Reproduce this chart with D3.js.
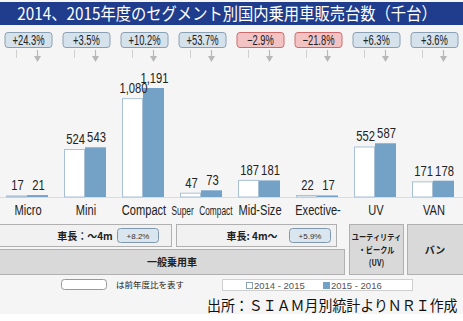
<!DOCTYPE html>
<html><head><meta charset="utf-8">
<script src="https://cdn.jsdelivr.net/npm/d3@7"></script>
<style>
html,body{margin:0;padding:0;background:#fff;}
svg{display:block;}
</style></head>
<body>
<svg id="chart" width="463" height="321"></svg>
<script>
const categories = ["Micro","Mini","Compact","Super Compact","Mid-Size","Exective-","UV","VAN"];
const series = ["2014 - 2015","2015 - 2016"];
const values2014 = [17, 524, 1080, 47, 187, 22, 552, 171];
const values2015 = [21, 543, 1191, 73, 181, 17, 587, 178];
const valueLabels2014 = ["17","524","1,080","47","187","22","552","171"];
const valueLabels2015 = ["21","543","1,191","73","181","17","587","178"];
const changes = ["+24.3%","+3.5%","+10.2%","+53.7%","\u22122.9%","\u221221.8%","+6.3%","+3.6%"];
const title = "2014、2015年度のセグメント別国内乗用車販売台数（千台）";
const groupLabels = ["車長：～4m","車長: 4m〜"];
const groupChanges = ["+8.2%","+5.9%"];

const SANS = "'Liberation Sans',Arial,sans-serif";
const JP = "'Noto Sans CJK JP','Noto Sans',sans-serif";
const BLUE = "#73a2c6";

const svg = d3.select("#chart");
svg.append("rect").attr("x",0).attr("y",0).attr("width",463).attr("height",314).attr("fill","#f5f5f5");
svg.append("rect").attr("x",0).attr("y",2).attr("width",463).attr("height",23).attr("fill","#1f3d8c");
svg.append("text").attr("transform","translate(227,19.5) scale(0.9,1)").attr("text-anchor","middle")
  .attr("fill","#fff").attr("font-family",JP).attr("font-size",17).text(title);

const x = d3.scaleBand().domain(categories).range([-2,462]).paddingInner(0.276).paddingOuter(0.138);
const xs = d3.scaleBand().domain(series).range([0, x.bandwidth()]);
const y = d3.scaleLinear().domain([0,1191]).range([197,88]);

svg.append("line").attr("x1",0).attr("x2",463).attr("y1",y(0)+0.5).attr("y2",y(0)+0.5).attr("stroke","#dcdcdc");

const data = categories.map((c,i)=>({c, v:[values2014[i],values2015[i]], l:[valueLabels2014[i],valueLabels2015[i]], ch:changes[i]}));
const grp = svg.append("g").selectAll("g.cat").data(data).join("g").attr("class","cat");

grp.append("rect").attr("x",d=>x(d.c)+xs(series[0])+0.5).attr("y",d=>y(d.v[0])+0.5)
  .attr("width",xs.bandwidth()-1).attr("height",d=>y(0)-y(d.v[0])-0.5)
  .attr("fill","#fff").attr("stroke","#a9c1d6").attr("stroke-width",1);
grp.append("rect").attr("x",d=>x(d.c)+xs(series[1])).attr("y",d=>y(d.v[1]))
  .attr("width",xs.bandwidth()).attr("height",d=>y(0)-y(d.v[1]))
  .attr("fill",BLUE);

[0,1].forEach(k=>{
  grp.append("text")
    .attr("transform",d=>`translate(${x(d.c)+xs(series[k])+xs.bandwidth()/2+1},${y(d.v[k])-5}) scale(0.75,1)`)
    .attr("text-anchor","middle").attr("font-family",SANS).attr("font-size",15).attr("fill","#222")
    .text(d=>d.l[k]);
});

grp.append("text")
  .attr("transform",d=>`translate(${x(d.c)+x.bandwidth()/2+1},215) scale(${d.c==="Super Compact"?0.64:0.74},1)`)
  .attr("text-anchor","middle").attr("font-family",SANS)
  .attr("font-size",d=>d.c==="Super Compact"?13:15).attr("fill","#222")
  .attr("word-spacing",d=>d.c==="Super Compact"?5:0)
  .text(d=>d.c);

grp.append("rect").attr("x",d=>x(d.c)+x.bandwidth()/2+1.5-23.5).attr("y",32.5)
  .attr("width",47).attr("height",15).attr("rx",3)
  .attr("fill",d=>d.ch.startsWith("+")?"#d5e1eb":"#f3c3c4")
  .attr("stroke",d=>d.ch.startsWith("+")?"#8aa0b3":"#cf6b6d").attr("stroke-width",1);
grp.append("text").attr("transform",d=>`translate(${x(d.c)+x.bandwidth()/2+1.5},45) scale(0.67,1)`)
  .attr("text-anchor","middle").attr("font-family",SANS).attr("font-size",14).attr("fill","#222")
  .text(d=>d.ch);
grp.append("line").attr("x1",d=>x(d.c)+xs(series[0])+xs.bandwidth()/2).attr("x2",d=>x(d.c)+xs(series[0])+xs.bandwidth()/2)
  .attr("y1",50).attr("y2",58).attr("stroke","#cfcfcf").attr("stroke-width",1);
grp.append("line").attr("x1",d=>x(d.c)+xs(series[1])+xs.bandwidth()/2).attr("x2",d=>x(d.c)+xs(series[1])+xs.bandwidth()/2)
  .attr("y1",50).attr("y2",57).attr("stroke","#b8b8b8").attr("stroke-width",1.2);
grp.append("path").attr("d",d=>{const cx=x(d.c)+xs(series[1])+xs.bandwidth()/2; return `M${cx-3.5},56 L${cx+3.5},56 L${cx},62 Z`;})
  .attr("fill","#b8b8b8");

const bb = svg.append("g");
function box(x0,y0,w,h,fill,stroke){bb.append("rect").attr("x",x0+0.5).attr("y",y0+0.5).attr("width",w-1).attr("height",h-1).attr("fill",fill).attr("stroke",stroke||"#b0b0b0");}
box(-1,224,173,23,"#f1f1f1");
box(176,224,161,23,"#f1f1f1");
box(-1,249,346,26,"#d9d9d9");
box(349,224,55,51,"#d9d9d9");
box(407,224,57,51,"#d9d9d9");

bb.append("text").attr("x",85).attr("y",240).attr("text-anchor","middle").attr("font-family",JP).attr("font-size",10).attr("font-weight","bold").attr("fill","#222").text(groupLabels[0]);
bb.append("text").attr("x",252).attr("y",240).attr("text-anchor","middle").attr("font-family",JP).attr("font-size",10).attr("font-weight","bold").attr("fill","#222").text(groupLabels[1]);
[[117,groupChanges[0]],[289,groupChanges[1]]].forEach(([bx,t])=>{
  bb.append("rect").attr("x",bx+0.5).attr("y",228.5).attr("width",41).attr("height",14).attr("rx",3)
    .attr("fill","#d9e5ef").attr("stroke","#7f98ae");
  bb.append("text").attr("x",bx+21).attr("y",238.5).attr("text-anchor","middle").attr("font-family",SANS).attr("font-size",8).attr("fill","#333").text(t);
});
bb.append("text").attr("x",172).attr("y",266).attr("text-anchor","middle").attr("font-family",JP).attr("font-size",10).attr("font-weight","bold").attr("fill","#222").text("一般乗用車");
["ユーティリティ","・ビークル","(UV)"].forEach((t,i)=>{
  bb.append("text").attr("transform",`translate(376.5,${240+i*13}) scale(0.85,1)`).attr("text-anchor","middle").attr("font-family",JP).attr("font-size",8.5).attr("font-weight","bold").attr("fill","#222").text(t);
});
bb.append("text").attr("x",435).attr("y",254).attr("text-anchor","middle").attr("font-family",JP).attr("font-size",10).attr("font-weight","bold").attr("fill","#222").text("バン");

bb.append("rect").attr("x",61.5).attr("y",279.5).attr("width",45).attr("height",10).attr("rx",3).attr("fill","#fff").attr("stroke","#999");
bb.append("text").attr("x",116).attr("y",288).attr("font-family",JP).attr("font-size",8.5).attr("fill","#222").text("は前年度比を表す");
bb.append("rect").attr("x",222.5).attr("y",279.5).attr("width",190).attr("height",11).attr("fill","#fff").attr("stroke","#cfcfcf");
const leg = bb.selectAll("g.leg").data(series).join("g").attr("class","leg")
  .attr("transform",(d,i)=>`translate(${i?323:246},0)`);
leg.append("rect").attr("x",0.5).attr("y",282.5).attr("width",6).attr("height",6)
  .attr("fill",(d,i)=>i?BLUE:"#fff").attr("stroke",(d,i)=>i?BLUE:"#8aa0b3");
leg.append("text").attr("x",8).attr("y",289).attr("font-family",SANS).attr("font-size",9.5).attr("fill","#555").text(d=>d);

svg.append("text").attr("transform","translate(207,311) scale(0.93,1)").attr("font-family",JP).attr("font-size",15).attr("fill","#111")
  .text("出所：ＳＩＡＭ月別統計よりＮＲＩ作成");
</script>
</body></html>
